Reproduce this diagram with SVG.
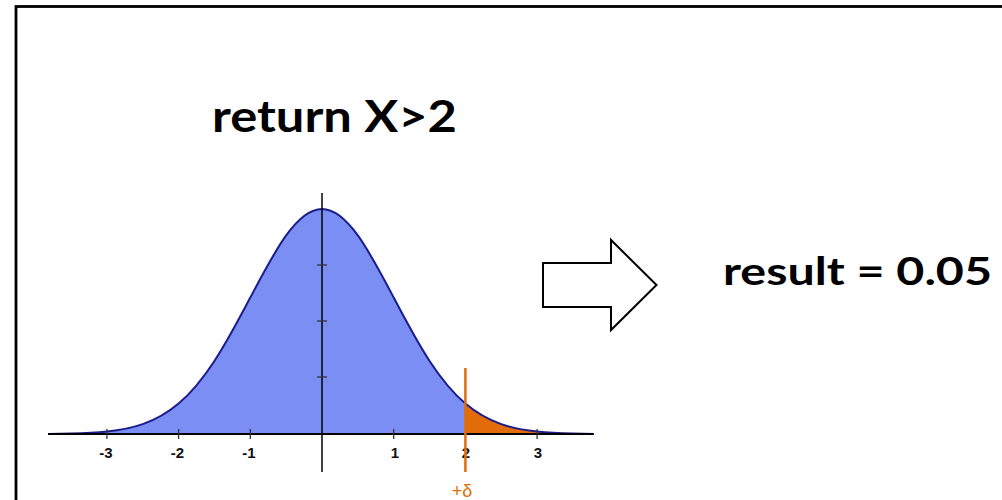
<svg xmlns="http://www.w3.org/2000/svg" width="1002" height="500" viewBox="0 0 1002 500">
<style>
.title{font-family:Lato,"Open Sans",sans-serif;font-weight:bold;fill:#000}
.tick{font-family:"Liberation Sans",sans-serif;font-weight:bold;font-size:15px;fill:#111;text-anchor:middle}
.axis{stroke:#000;stroke-width:2;fill:none}
.tk{stroke:#333;stroke-width:1.3}
</style>
<rect width="1002" height="500" fill="#fff"/>
<rect id="frame" x="16" y="6.5" width="1100" height="600" fill="none" stroke="#000" stroke-width="2.8"/>
<g id="title"><text class="title" x="212" y="132" font-size="44" textLength="245" lengthAdjust="spacingAndGlyphs">return X&gt;2</text></g>
<g id="result"><text class="title" x="723" y="285" font-size="39" textLength="269" lengthAdjust="spacingAndGlyphs">result = 0.05</text></g>
<g id="chart">
<path d="M48,434 L48,433.9 L70.95,433.51 C82.9,433.22 94.95,432.75 106.9,431.5 C118.85,430.25 130.8,428.23 142.75,424.11 C154.7,419.99 166.65,413.7 178.6,403.55 C190.55,393.4 202.5,379.21 214.45,360.95 C226.4,342.69 238.35,320.28 250.3,297.53 C262.25,274.78 274.2,251.99 286.15,235.44 C298.1,218.89 310.05,209 322,209 C333.95,209 345.9,218.89 357.85,235.44 C369.8,251.99 381.75,274.78 393.7,297.53 C405.65,320.28 417.6,342.69 429.55,360.95 C441.5,379.21 453.45,393.4 465.4,403.55 L465.4,434 Z" fill="#7b8ef4"/>
<path d="M465.4,434 L465.4,403.55 C477.35,413.7 489.3,419.99 501.25,424.11 C513.2,428.23 525.15,430.25 537.1,431.5 C549.05,432.75 561,433.22 572.95,433.51 L594,433.9 L594,434 Z" fill="#e36c0a"/>
<path d="M48,433.9 L70.95,433.51 C82.9,433.22 94.95,432.75 106.9,431.5 C118.85,430.25 130.8,428.23 142.75,424.11 C154.7,419.99 166.65,413.7 178.6,403.55 C190.55,393.4 202.5,379.21 214.45,360.95 C226.4,342.69 238.35,320.28 250.3,297.53 C262.25,274.78 274.2,251.99 286.15,235.44 C298.1,218.89 310.05,209 322,209 C333.95,209 345.9,218.89 357.85,235.44 C369.8,251.99 381.75,274.78 393.7,297.53 C405.65,320.28 417.6,342.69 429.55,360.95 C441.5,379.21 453.45,393.4 465.4,403.55 C477.35,413.7 489.3,419.99 501.25,424.11 C513.2,428.23 525.15,430.25 537.1,431.5 C549.05,432.75 561,433.22 572.95,433.51 L594,433.9" fill="none" stroke="#1c1c8a" stroke-width="2" stroke-linejoin="round"/>
<line class="axis" x1="48" y1="434" x2="593" y2="434"/>
<line x1="322" y1="193" x2="322" y2="472" stroke="#000" stroke-width="1.5"/>
<g class="tk">
<line x1="106.9" y1="429" x2="106.9" y2="439"/>
<line x1="178.6" y1="429" x2="178.6" y2="439"/>
<line x1="250.3" y1="429" x2="250.3" y2="439"/>
<line x1="393.7" y1="429" x2="393.7" y2="439"/>
<line x1="537.1" y1="429" x2="537.1" y2="439"/>
<line x1="317" y1="265" x2="327" y2="265"/>
<line x1="317" y1="321" x2="327" y2="321"/>
<line x1="317" y1="377" x2="327" y2="377"/>
</g>
<text class="tick" x="106" y="458">-3</text>
<text class="tick" x="177.5" y="458">-2</text>
<text class="tick" x="249" y="458">-1</text>
<text class="tick" x="395" y="458">1</text>
<text class="tick" x="466" y="458">2</text>
<text class="tick" x="538" y="458">3</text>
<line x1="465.4" y1="368" x2="465.4" y2="472" stroke="#e36c0a" stroke-width="2.5"/>
<text x="462" y="497" font-family="'Liberation Sans',sans-serif" font-size="18" fill="#e36c0a" text-anchor="middle">+δ</text>
</g>
<g id="connectors">
<path d="M543,263 H611 V240 L656.5,285 L611,330 V307 H543 Z" fill="#fff" stroke="#000" stroke-width="2"/>
</g>
</svg>
